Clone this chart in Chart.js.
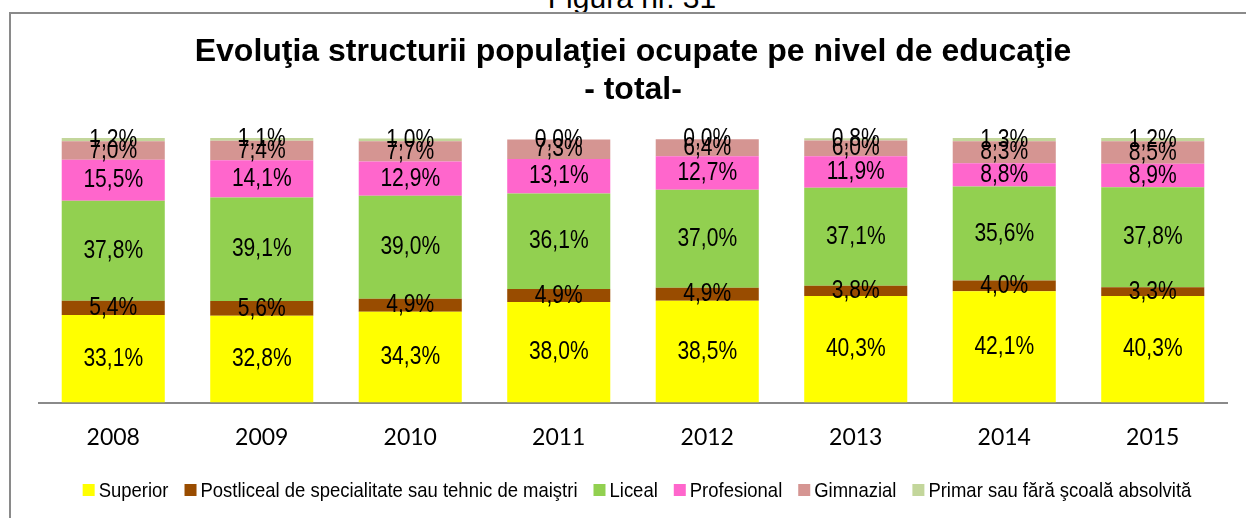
<!DOCTYPE html>
<html>
<head>
<meta charset="utf-8">
<script src="https://cdn.jsdelivr.net/npm/chart.js@4.4.1/dist/chart.umd.min.js"></script>
<style>
    body { margin: 0; background: #fff; }
    #wrap { position: relative; width: 1246px; height: 518px; overflow: hidden; }
    #frame { position: absolute; left: 9px; top: 12px; width: 1300px; height: 600px; border: 2px solid #8a8a8a; }
    #fig { position: absolute; left: 0; width: 1264px; top: -17px; text-align: center;
           font: 30px "Liberation Sans", Arial, sans-serif; line-height: 30px; color: #000; }
    canvas { position: absolute; left: 0; top: 0; }
</style>
</head>
<body>
<div id="wrap">
    <div id="fig">Figura nr. 31</div>
    <div id="frame"></div>
    <canvas id="chart" width="1246" height="518"></canvas>
</div>
<script>
const years = ['2008', '2009', '2010', '2011', '2012', '2013', '2014', '2015'];
const superior = [33.1, 32.8, 34.3, 38.0, 38.5, 40.3, 42.1, 40.3];
const postliceal = [5.4, 5.6, 4.9, 4.9, 4.9, 3.8, 4.0, 3.3];
const liceal = [37.8, 39.1, 39.0, 36.1, 37.0, 37.1, 35.6, 37.8];
const profesional = [15.5, 14.1, 12.9, 13.1, 12.7, 11.9, 8.8, 8.9];
const gimnazial = [7.0, 7.4, 7.7, 7.3, 6.4, 6.0, 8.3, 8.5];
const primar = [1.2, 1.1, 1.0, 0.0, 0.0, 0.8, 1.3, 1.2];

// no narrow face is installed, so squeeze Liberation Sans horizontally
const FONT = '"Liberation Sans", Arial, sans-serif';

function narrowText(ctx, text, x, y, squeeze) {
    ctx.save();
    ctx.translate(x, y);
    ctx.scale(squeeze, 1);
    ctx.fillText(text, 0, 0);
    ctx.restore();
}

// value labels in the middle of every segment, Romanian decimal comma
const segmentLabels = {
    id: 'segmentLabels',
    afterDatasetsDraw(chart) {
        const ctx = chart.ctx;
        ctx.save();
        ctx.font = '26px ' + FONT;
        ctx.fillStyle = '#000';
        ctx.textAlign = 'center';
        ctx.textBaseline = 'middle';
        chart.data.datasets.forEach((ds, i) => {
            chart.getDatasetMeta(i).data.forEach((bar, j) => {
                const text = ds.data[j].toFixed(1).replace('.', ',') + '%';
                narrowText(ctx, text, bar.x, (bar.y + bar.base) / 2, 0.81);
            });
        });
        ctx.restore();
    }
};

// one-row legend under the axis, drawn from the datasets
const bottomLegend = {
    id: 'bottomLegend',
    afterDraw(chart) {
        const ctx = chart.ctx;
        const box = 12, gap = 4, spacing = 16, y = 490, squeeze = 0.88;
        ctx.save();
        ctx.font = '21px ' + FONT;
        ctx.textBaseline = 'middle';
        ctx.textAlign = 'left';
        const items = chart.data.datasets.map(ds => ({
            text: ds.label,
            color: ds.backgroundColor,
            w: ctx.measureText(ds.label).width * squeeze
        }));
        const total = items.reduce((s, it) => s + box + gap + it.w, 0) + spacing * (items.length - 1);
        let x = (chart.chartArea.left + chart.chartArea.right) / 2 - total / 2 + 4;
        items.forEach(it => {
            ctx.fillStyle = it.color;
            ctx.fillRect(x, y - box / 2, box, box);
            ctx.fillStyle = '#000';
            narrowText(ctx, it.text, x + box + gap, y + 1, squeeze);
            x += box + gap + it.w + spacing;
        });
        ctx.restore();
    }
};

new Chart(document.getElementById('chart'), {
    type: 'bar',
    data: {
        labels: years,
        datasets: [
            { label: 'Superior', data: superior, backgroundColor: '#FFFF00' },
            { label: 'Postliceal de specialitate sau tehnic de maiştri', data: postliceal, backgroundColor: '#994C00' },
            { label: 'Liceal', data: liceal, backgroundColor: '#92D050' },
            { label: 'Profesional', data: profesional, backgroundColor: '#FF66CC' },
            { label: 'Gimnazial', data: gimnazial, backgroundColor: '#D59592' },
            { label: 'Primar sau fără şcoală absolvită', data: primar, backgroundColor: '#C3D69B' }
        ]
    },
    options: {
        responsive: false,
        devicePixelRatio: 1,
        animation: false,
        datasets: {
            bar: { categoryPercentage: 1, barPercentage: 0.694, borderWidth: 0 }
        },
        layout: { padding: { left: 39, right: 19, top: 0, bottom: 45.5 } },
        scales: {
            x: {
                stacked: true,
                grid: { display: false, drawTicks: false },
                border: { display: true, color: '#8a8a8a', width: 2 },
                ticks: {
                    color: '#000',
                    padding: 3.5,
                    font: { family: 'Lato', size: 23, lineHeight: 63 / 23 }
                }
            },
            y: {
                stacked: true,
                display: false,
                min: 0,
                max: 100
            }
        },
        plugins: {
            title: {
                display: true,
                text: ['Evoluţia structurii populaţiei ocupate pe nivel de educaţie', '- total-'],
                color: '#000',
                font: { family: FONT, size: 32, weight: 'bold', lineHeight: 38 / 32 },
                padding: { top: 33, bottom: 29 }
            },
            legend: { display: false },
            tooltip: { enabled: false }
        }
    },
    plugins: [segmentLabels, bottomLegend]
});
</script>
</body>
</html>
